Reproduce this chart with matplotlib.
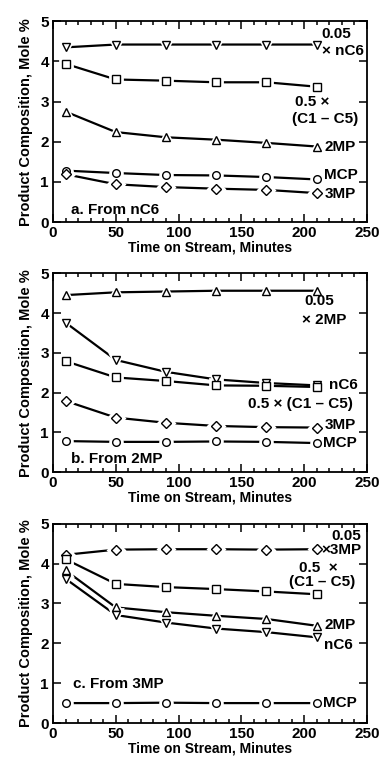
import numpy as np
import matplotlib.pyplot as plt
from matplotlib.ticker import MultipleLocator

plt.rcParams['font.family'] = ['Liberation Sans', 'DejaVu Sans']
plt.rcParams['font.weight'] = 'bold'

# Sampling times, minutes
time = [10, 50, 90, 130, 170, 210]

# a. From nC6
a_nc6 = [4.35, 4.42, 4.42, 4.42, 4.42, 4.42]
a_c1c5 = [3.94, 3.55, 3.52, 3.48, 3.48, 3.37]
a_2mp = [2.75, 2.24, 2.11, 2.05, 1.97, 1.88]
a_mcp = [1.28, 1.22, 1.17, 1.16, 1.12, 1.06]
a_3mp = [1.19, 0.94, 0.87, 0.83, 0.80, 0.72]

# b. From 2MP
b_2mp = [4.45, 4.52, 4.54, 4.56, 4.56, 4.56]
b_nc6 = [3.76, 2.82, 2.52, 2.33, 2.24, 2.18]
b_c1c5 = [2.79, 2.38, 2.29, 2.18, 2.17, 2.14]
b_3mp = [1.79, 1.37, 1.24, 1.16, 1.13, 1.12]
b_mcp = [0.78, 0.76, 0.76, 0.77, 0.76, 0.73]

# c. From 3MP
c_3mp = [4.22, 4.35, 4.36, 4.36, 4.35, 4.36]
c_c1c5 = [4.11, 3.49, 3.41, 3.36, 3.30, 3.23]
c_2mp = [3.83, 2.90, 2.78, 2.69, 2.61, 2.44]
c_nc6 = [3.62, 2.71, 2.52, 2.37, 2.28, 2.15]
c_mcp = [0.50, 0.50, 0.51, 0.50, 0.50, 0.50]

fig = plt.figure(figsize=(3.81, 7.59), dpi=100)

boxes = [[0.139, 0.7075, 0.824, 0.2645],
         [0.139, 0.378, 0.824, 0.262],
         [0.139, 0.0474, 0.824, 0.2626]]


def series(ax, y, marker):
    ax.plot(time, y, '-', color='black', lw=1.6, zorder=2)
    ax.plot(time, y, ls='none', marker=marker, ms=8.5, mfc='white', mec='white',
            mew=2, zorder=3)
    ax.plot(time, y, ls='none', marker=marker, ms=5.5, mfc='white', mec='black',
            mew=1.0, zorder=4)


def style(ax):
    ax.set_xlim(0, 250)
    ax.set_ylim(0, 5)
    ax.xaxis.set_major_locator(MultipleLocator(50))
    ax.xaxis.set_minor_locator(MultipleLocator(10))
    ax.yaxis.set_major_locator(MultipleLocator(1))
    ax.tick_params(which='both', direction='in', top=True, right=True,
                   labelsize=11, width=1.1)
    ax.tick_params(which='major', length=6, pad=3)
    ax.tick_params(which='minor', length=3)
    for s in ax.spines.values():
        s.set_linewidth(1.3)
    for lab in ax.get_xticklabels() + ax.get_yticklabels():
        lab.set_fontweight('bold')
    ax.set_xlabel('Time on Stream, Minutes', fontsize=10, fontweight='bold', labelpad=0)
    ax.set_ylabel('Product Composition, Mole %', fontsize=10.5, fontweight='bold', labelpad=5)


fs = 11

ax = fig.add_axes(boxes[0])
series(ax, a_nc6, 'v')
series(ax, a_c1c5, 's')
series(ax, a_2mp, '^')
series(ax, a_mcp, 'o')
series(ax, a_3mp, 'D')
ax.text(214, 4.68, '0.05', fontsize=fs, va='center')
ax.text(214, 4.27, '× nC6', fontsize=fs, va='center')
ax.text(193, 2.98, '0.5 ×', fontsize=fs, va='center')
ax.text(190, 2.57, '(C1 – C5)', fontsize=fs, va='center')
ax.text(216, 1.87, '2MP', fontsize=fs, va='center')
ax.text(216, 1.18, 'MCP', fontsize=fs, va='center')
ax.text(216, 0.70, '3MP', fontsize=fs, va='center')
ax.text(14, 0.31, 'a. From nC6', fontsize=fs, va='center')
style(ax)

ax = fig.add_axes(boxes[1])
series(ax, b_2mp, '^')
series(ax, b_nc6, 'v')
series(ax, b_c1c5, 's')
series(ax, b_3mp, 'D')
series(ax, b_mcp, 'o')
ax.text(200, 4.29, '0.05', fontsize=fs, va='center')
ax.text(198, 3.82, '× 2MP', fontsize=fs, va='center')
ax.text(220, 2.18, 'nC6', fontsize=fs, va='center')
ax.text(155, 1.71, '0.5 × (C1 – C5)', fontsize=fs, va='center')
ax.text(216, 1.18, '3MP', fontsize=fs, va='center')
ax.text(215, 0.73, 'MCP', fontsize=fs, va='center')
ax.text(14, 0.34, 'b. From 2MP', fontsize=fs, va='center')
style(ax)

ax = fig.add_axes(boxes[2])
series(ax, c_3mp, 'D')
series(ax, c_c1c5, 's')
series(ax, c_2mp, '^')
series(ax, c_nc6, 'v')
series(ax, c_mcp, 'o')
ax.text(222, 4.70, '0.05', fontsize=fs, va='center')
ax.text(214, 4.35, '×3MP', fontsize=fs, va='center')
ax.text(196, 3.88, '0.5  ×', fontsize=fs, va='center')
ax.text(188, 3.55, '(C1 – C5)', fontsize=fs, va='center')
ax.text(216, 2.47, '2MP', fontsize=fs, va='center')
ax.text(216, 1.95, 'nC6', fontsize=fs, va='center')
ax.text(16, 0.99, 'c. From 3MP', fontsize=fs, va='center')
ax.text(215, 0.50, 'MCP', fontsize=fs, va='center')
style(ax)

fig.savefig('out.png', dpi=100)
